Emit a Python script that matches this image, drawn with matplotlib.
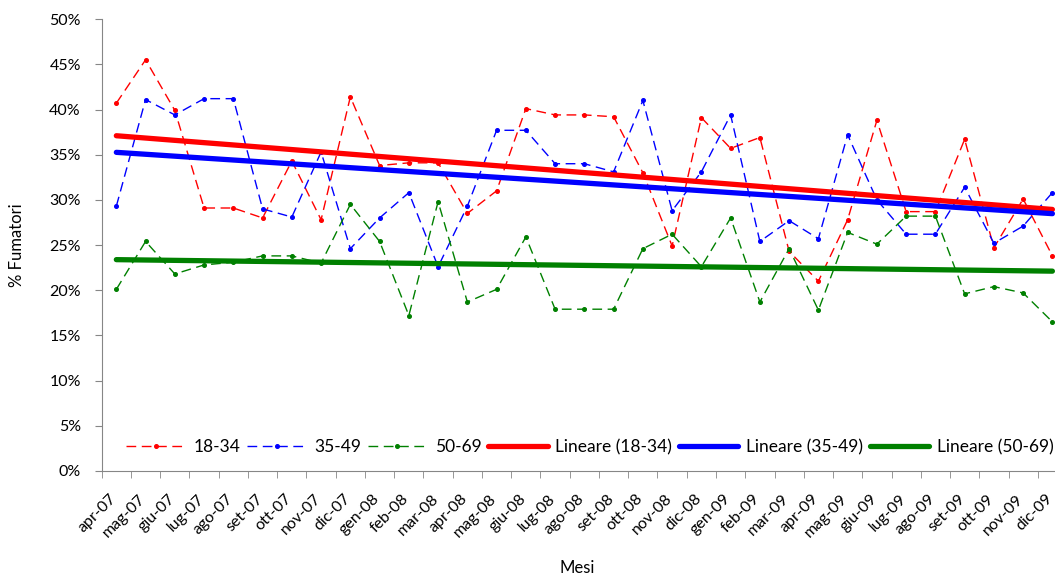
import matplotlib.pyplot as plt
import matplotlib.transforms as mtransforms
import numpy as np

mesi = ["apr-07", "mag-07", "giu-07", "lug-07", "ago-07", "set-07", "ott-07", "nov-07", "dic-07",
        "gen-08", "feb-08", "mar-08", "apr-08", "mag-08", "giu-08", "lug-08", "ago-08", "set-08",
        "ott-08", "nov-08", "dic-08", "gen-09", "feb-09", "mar-09", "apr-09", "mag-09", "giu-09",
        "lug-09", "ago-09", "set-09", "ott-09", "nov-09", "dic-09"]

# % fumatori per fascia d'eta'
eta_18_34 = [40.7, 45.5, 39.9, 29.1, 29.1, 28.0, 34.3, 27.8, 41.4, 33.8, 34.1, 34.1, 28.5,
             31.0, 40.1, 39.4, 39.4, 39.2, 33.0, 24.9, 39.1, 35.7, 36.9, 24.3, 21.0, 27.8,
             38.8, 28.7, 28.7, 36.7, 24.7, 30.1, 23.8]
eta_35_49 = [29.3, 41.1, 39.4, 41.2, 41.2, 29.0, 28.1, 35.3, 24.6, 28.0, 30.8, 22.6, 29.3,
             37.7, 37.7, 34.0, 34.0, 33.1, 41.0, 28.8, 33.1, 39.4, 25.4, 27.7, 25.7, 37.2,
             30.0, 26.2, 26.2, 31.4, 25.2, 27.1, 30.8]
eta_50_69 = [20.1, 25.4, 21.8, 22.8, 23.1, 23.8, 23.8, 23.0, 29.5, 25.4, 17.2, 29.8, 18.7,
             20.1, 25.9, 17.9, 17.9, 17.9, 24.6, 26.2, 22.6, 28.0, 18.7, 24.6, 17.8, 26.4,
             25.1, 28.2, 28.2, 19.6, 20.4, 19.7, 16.5]

serie = [("18-34", eta_18_34, "#ff0000"),
         ("35-49", eta_35_49, "#0000ff"),
         ("50-69", eta_50_69, "#008000")]

plt.rcParams['font.family'] = ['Lato', 'DejaVu Sans']

fig = plt.figure(figsize=(10.55, 5.8), dpi=100)
# the plot area runs past the right border of the picture, like the original
ax = fig.add_axes([0.0964, 0.188, 0.915, 0.779])

x = np.arange(len(mesi))
handles = []
for nome, valori, col in serie:
    h, = ax.plot(x, valori, color=col, lw=1.0, linestyle=(0, (7, 4)),
                 marker='o', markersize=2.6, label=nome)
    handles.append(h)

# linear trend lines (Excel "Lineare")
for nome, valori, col in serie:
    m, q = np.polyfit(x, valori, 1)
    h, = ax.plot(x, m * x + q, color=col, lw=3.8, solid_capstyle='round',
                 label=f"Lineare ({nome})")
    handles.append(h)

ax.set_xlim(-0.5, len(mesi) - 0.5)
ax.set_ylim(0, 50)
ax.set_yticks(np.arange(0, 51, 5))
ax.set_yticklabels([f"{v}%" for v in range(0, 51, 5)], fontsize=11.5)
ax.set_xticks(x)
ax.set_xticklabels(mesi, rotation=45, ha='right', rotation_mode='anchor', fontsize=11.5)
ax.set_xticks(np.arange(-0.5, len(mesi), 1), minor=True)
ax.tick_params(axis='x', which='major', length=0, pad=15)
ax.tick_params(axis='x', which='minor', length=5, color='#868686', direction='out')
ax.tick_params(axis='y', length=5, color='#868686', direction='out', pad=10)

shift = mtransforms.ScaledTranslation(-7 / 100, 0, fig.dpi_scale_trans)
for lab in ax.get_xticklabels():
    lab.set_transform(lab.get_transform() + shift)

for s in ['top', 'right']:
    ax.spines[s].set_visible(False)
for s in ['left', 'bottom']:
    ax.spines[s].set_color('#868686')

ax.set_xlabel("Mesi", fontsize=12)
ax.xaxis.set_label_coords(0.493, -0.198)
ax.set_ylabel("% Fumatori", fontsize=12)
ax.yaxis.set_label_coords(-0.0795, 0.5)

ax.legend(handles=handles, ncol=6, frameon=False, fontsize=12.5,
          loc='center', bbox_to_anchor=(590 / 1055, 1 - 447 / 580),
          bbox_transform=fig.transFigure, handlelength=3.4, handletextpad=0.45,
          columnspacing=0.4, borderaxespad=0)

fig.savefig("out.png", dpi=100)
